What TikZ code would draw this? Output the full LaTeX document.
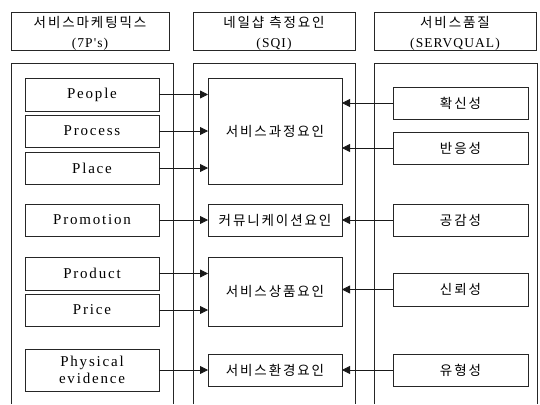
\documentclass[tikz,border=0pt]{standalone}
\usepackage{fontspec}
\setmainfont{Liberation Serif}[LetterSpace=12]
\newfontfamily\kr{Noto Sans CJK KR}[LetterSpace=14]
\newfontfamily\hdlat{Liberation Serif}[LetterSpace=8]
\usetikzlibrary{arrows.meta}
\tikzset{
  box/.style={draw=black!85, line width=0.8pt, inner sep=0pt, outer sep=0pt, align=center, font=\fontsize{15}{17}\selectfont},
  hbox/.style={box},
  htext/.style={inner sep=0pt, align=center, font=\fontsize{13.5}{19.5}\selectfont},
  arr/.style={draw=black!90, line width=0.8pt, -{Triangle[length=8pt,width=8pt]}},
  col/.style={draw=black!85, line width=0.8pt}
}
\newcommand\bx[7][box]{\node[#1, minimum width={(#5-#3)*1pt}, minimum height={(#6-#4)*1pt}] (#2) at ({(#3+#5)/2},{(#4+#6)/2}) {#7};}
\begin{document}
\begin{tikzpicture}[x=1pt,y=-1pt]
\useasboundingbox (0,0) rectangle (540,404);
% headers
\bx[hbox]{h1}{11}{12}{169}{50}{}
\bx[hbox]{h2}{193}{12}{355}{50}{}
\bx[hbox]{h3}{374}{12}{536}{50}{}
\node[htext] (h1t) at ([yshift=-2.5pt]h1.center) {{\kr 서비스마케팅믹스}\\{\hdlat (7P's)}};
\node[htext] (h2t) at ([yshift=-2.5pt]h2.center) {{\kr 네일샵 측정요인}\\{\hdlat (SQI)}};
\node[htext] (h3t) at ([yshift=-2.5pt]h3.center) {{\kr 서비스품질}\\{\hdlat (SERVQUAL)}};
% column containers (open at bottom)
\draw[col] (11,404) -- (11,63) -- (173,63) -- (173,404);
\draw[col] (193,404) -- (193,63) -- (355,63) -- (355,404);
\draw[col] (374,404) -- (374,63) -- (537,63) -- (537,404);
% left boxes
\bx{people}{25}{78}{159}{111}{People}
\bx{process}{25}{115}{159}{147}{Process}
\bx{place}{25}{152}{159}{184}{Place}
\bx{promo}{25}{204}{159}{236}{Promotion}
\bx{product}{25}{257}{159}{290}{Product}
\bx{price}{25}{294}{159}{326}{Price}
\bx{phys}{25}{349}{159}{391}{Physical\\evidence}
% middle boxes
\bx{m1}{208}{78}{342}{184}{\kr\fontsize{13.5}{16}\selectfont 서비스과정요인}
\bx{m2}{208}{204}{342}{236}{\kr\fontsize{13.5}{16}\selectfont 커뮤니케이션요인}
\bx{m3}{208}{257}{342}{326}{\kr\fontsize{13.5}{16}\selectfont 서비스상품요인}
\bx{m4}{208}{354}{342}{386}{\kr\fontsize{13.5}{16}\selectfont 서비스환경요인}
% right boxes
\bx{r1}{393}{87}{528}{119}{\kr\fontsize{13.5}{16}\selectfont 확신성}
\bx{r2}{393}{132}{528}{164}{\kr\fontsize{13.5}{16}\selectfont 반응성}
\bx{r3}{393}{204}{528}{236}{\kr\fontsize{13.5}{16}\selectfont 공감성}
\bx{r4}{393}{273}{528}{306}{\kr\fontsize{13.5}{16}\selectfont 신뢰성}
\bx{r5}{393}{354}{528}{386}{\kr\fontsize{13.5}{16}\selectfont 유형성}
% left arrows
\draw[arr] (people.east) -- (m1.west |- people.east);
\draw[arr] (process.east) -- (m1.west |- process.east);
\draw[arr] (place.east) -- (m1.west |- place.east);
\draw[arr] (promo.east) -- (m2.west |- promo.east);
\draw[arr] (product.east) -- (m3.west |- product.east);
\draw[arr] (price.east) -- (m3.west |- price.east);
\draw[arr] (phys.east) -- (m4.west |- phys.east);
% right arrows
\draw[arr] (r1.west) -- (m1.east |- r1.west);
\draw[arr] (r2.west) -- (m1.east |- r2.west);
\draw[arr] (r3.west) -- (m2.east |- r3.west);
\draw[arr] (r4.west) -- (m3.east |- r4.west);
\draw[arr] (r5.west) -- (m4.east |- r5.west);
\end{tikzpicture}
\end{document}
